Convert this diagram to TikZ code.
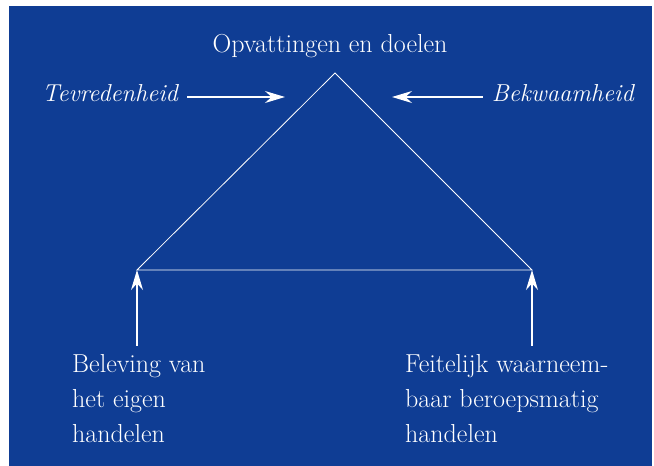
\documentclass[tikz,border=0pt]{standalone}
\usepackage{fontspec}
\usetikzlibrary{arrows.meta}
\definecolor{bgblue}{RGB}{15,61,148}
\begin{document}
\begin{tikzpicture}[x=1pt,y=1pt,>={Stealth[length=20pt,width=12pt]},
	lbl/.style={text=white,inner sep=0pt,font=\fontsize{26}{35}\selectfont},
	ilbl/.style={lbl,font=\fontsize{24.5}{35}\selectfont\itshape}]
	\useasboundingbox (0,0) rectangle (654,466);
	\fill[bgblue] (9,0) rectangle (652,460);
	% triangle
	\coordinate (top) at (335,393);
	\coordinate (left) at (137,196);
	\coordinate (right) at (532,196);
	\draw[white,line width=0.8pt] (top)--(left)--(right)--cycle;
	\node[lbl,anchor=base] (goals) at (330,413) {Opvattingen en doelen};
	% side labels
	\node[ilbl,anchor=base west] (tevr) at (42,364) {Tevredenheid};
	\node[ilbl,anchor=base east] (bekw) at (634,364) {Bekwaamheid};
	\coordinate (tevrtip) at (285,369);
	\coordinate (bekwtip) at (392,369);
	\draw[->,white,line width=1.2pt] ([xshift=9pt]tevr.east|-tevrtip)--(tevrtip);
	\draw[->,white,line width=1.2pt] ([xshift=-9pt]bekw.west|-bekwtip)--(bekwtip);
	% bottom labels
	\node[lbl,anchor=north west,align=left] (bel) at (72,112) {Beleving van\\het eigen\\handelen};
	\node[lbl,anchor=north west,align=left] (feit) at (405,112) {Feitelijk waarneem-\\baar beroepsmatig\\handelen};
	\draw[->,white,line width=1.2pt] ([yshift=8pt]left|-bel.north)--(left);
	\draw[->,white,line width=1.2pt] ([yshift=8pt]right|-feit.north)--(right);
\end{tikzpicture}
\end{document}
